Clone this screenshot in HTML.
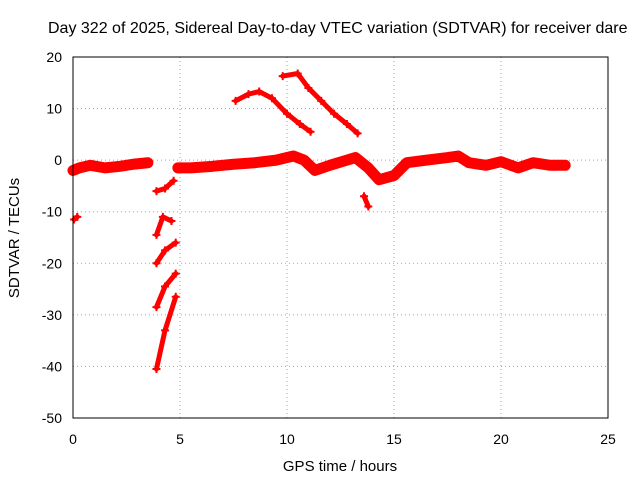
<!DOCTYPE html>
<html><head><meta charset="utf-8"><style>
body{margin:0;background:#fff}
svg{display:block;font-family:"Liberation Sans",sans-serif}
</style></head><body>
<svg id="c" width="640" height="480" viewBox="0 0 640 480">
<text x="48" y="33" font-size="16" fill="#000">Day 322 of 2025, Sidereal Day-to-day VTEC variation (SDTVAR) for receiver dare</text>
<text x="340" y="471" font-size="15" text-anchor="middle">GPS time / hours</text>
<text transform="translate(19,238) rotate(-90)" font-size="15" text-anchor="middle">SDTVAR / TECUs</text>
<g id="grid"></g><g id="ticks"></g><g id="series"></g>
<rect x="73" y="57" width="535" height="361" fill="none" stroke="#000" stroke-width="1"/>
</svg>
<script>
const xTicks=[0,5,10,15,20,25];
const yTicks=[20,10,0,-10,-20,-30,-40,-50];
const bandA=[[0,-2],[0.3,-1.5],[0.8,-1],[1.5,-1.5],[2.2,-1.2],[2.8,-0.8],[3.5,-0.5]];
const bandB=[[4.9,-1.5],[5.5,-1.5],[6.5,-1.2],[7.5,-0.8],[8.5,-0.5],[9.5,0],[10.3,0.8],[10.8,0],[11.3,-2],[12,-1],[12.8,0],[13.2,0.5],[13.8,-1.5],[14.3,-3.8],[15,-3],[15.6,-0.5],[16.5,0],[17.5,0.5],[18,0.8],[18.5,-0.5],[19.3,-1],[20,-0.3],[20.8,-1.5],[21.5,-0.5],[22.3,-1],[23,-1]];
const arc1=[[7.6,11.5],[8.2,12.8],[8.7,13.3],[9.3,12],[10,9],[10.6,7],[11.1,5.5]];
const arc2=[[9.8,16.3],[10.5,16.8],[11,14],[11.6,11.5],[12.2,9],[12.8,7],[13.3,5.2]];
const seg0=[[0.05,-11.5],[0.2,-11]];
const seg1=[[3.9,-6],[4.3,-5.5],[4.7,-4]];
const seg2=[[3.9,-14.5],[4.2,-11],[4.6,-11.8]];
const seg3=[[3.9,-20],[4.3,-17.5],[4.8,-16]];
const seg4=[[3.9,-28.5],[4.3,-24.5],[4.8,-22]];
const seg5=[[3.9,-40.5],[4.3,-33],[4.8,-26.5]];
const seg6=[[13.6,-7],[13.8,-9]];
const NS="http://www.w3.org/2000/svg";
const X=v=>73+v*(535/25), Y=v=>57+(20-v)*(361/70);
const g=document.getElementById('grid'),t=document.getElementById('ticks'),s=document.getElementById('series');
function mk(tag,at,p){const e=document.createElementNS(NS,tag);for(const k in at)e.setAttribute(k,at[k]);p.appendChild(e);return e;}
xTicks.forEach(v=>{
 if(v>0&&v<25){const l=mk('line',{x1:X(v),x2:X(v),y1:57,y2:418,stroke:'#a0a0a0','stroke-dasharray':'1,3'},g);
 }
 const tx=mk('text',{x:X(v),y:444,'font-size':14,'text-anchor':'middle'},t);tx.textContent=v;
 
});
yTicks.forEach(v=>{
 if(v<20&&v>-50){const l=mk('line',{x1:73,x2:608,y1:Y(v),y2:Y(v),stroke:'#a0a0a0','stroke-dasharray':'1,3'},g);
 }
 const tx=mk('text',{x:62,y:Y(v)+5,'font-size':14,'text-anchor':'end'},t);tx.textContent=v;
 
});
function draw(arr,w,name){
 const p=mk('polyline',{points:arr.map(d=>X(d[0])+','+Y(d[1])).join(' '),fill:'none',stroke:'#f00','stroke-width':w,'stroke-linejoin':'round','stroke-linecap':'round'},s);
 
 arr.forEach(d=>{const m=mk('path',{d:`M${X(d[0])-4},${Y(d[1])}h8M${X(d[0])},${Y(d[1])-4}v8`,stroke:'#f00','stroke-width':2},s);
 });
}
draw(bandA,11,'band-early');draw(bandB,11,'band-main');
draw(arc1,5,'arc-1');draw(arc2,5,'arc-2');
draw(seg0,5,'segment-0');draw(seg1,5,'segment-1');draw(seg2,5,'segment-2');
draw(seg3,5,'segment-3');draw(seg4,5,'segment-4');draw(seg5,5,'segment-5');draw(seg6,5,'segment-6');
</script>
</body></html>
